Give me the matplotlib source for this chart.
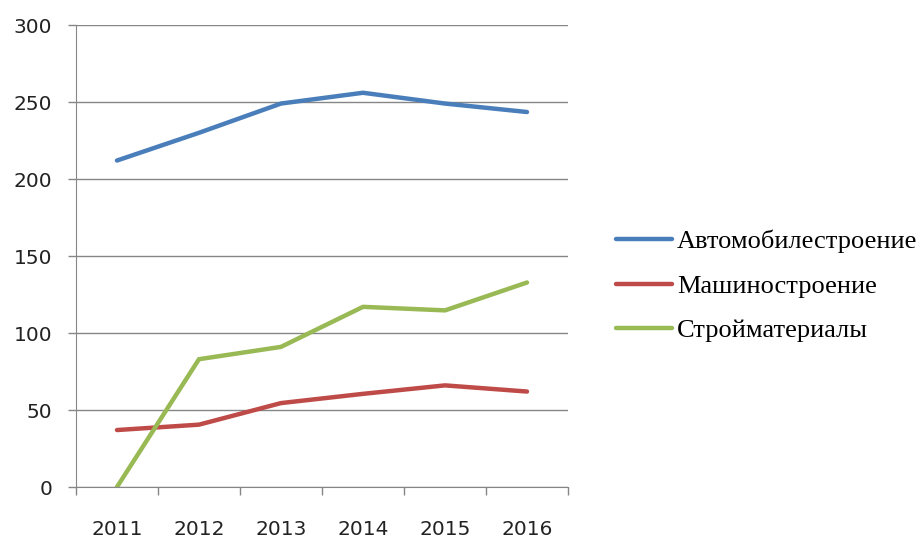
import numpy as np
import matplotlib.pyplot as plt

years = ['2011', '2012', '2013', '2014', '2015', '2016']
auto = [212, 230, 249, 256, 249, 243.5]
mash = [37, 40.5, 54.5, 60.5, 66, 62]
stroy = [0, 83, 91, 117, 114.7, 132.8]
names = ['Автомобилестроение', 'Машиностроение', 'Стройматериалы']
colors = ['#4A7EBB', '#BE4B48', '#98B954']

fig = plt.figure(figsize=(9.23, 5.4), dpi=100)
ax = fig.add_axes([0.0823, 0.0981, 0.5331, 0.8556])

x = np.arange(len(years))
for vals, name, c in zip([auto, mash, stroy], names, colors):
    ax.plot(x, vals, color=c, lw=3.2, label=name, solid_capstyle='round', solid_joinstyle='round')

ax.set_xlim(-0.5, len(years) - 0.5)
ax.set_ylim(0, 300)
ax.set_yticks(np.arange(0, 301, 50))
ax.yaxis.grid(True, color='#868686', lw=1)
ax.set_axisbelow(True)

# boundary ticks as major, labels at category centres as minor
ax.set_xticks(np.arange(-0.5, len(years), 1))
ax.set_xticklabels([])
ax.set_xticks(x, minor=True)
ax.set_xticklabels(years, minor=True)
ax.tick_params(axis='x', which='major', length=6, color='#868686', width=1)
ax.tick_params(axis='x', which='minor', length=0, pad=24, labelsize=14.5, labelcolor='#222222')
ax.tick_params(axis='y', length=6, color='#868686', width=1, labelsize=14.5, pad=11, labelcolor='#222222')

for s in ['top', 'right']:
    ax.spines[s].set_visible(False)
ax.spines['left'].set_color('#868686')
ax.spines['bottom'].set_color('#868686')

leg = ax.legend(loc='center left', bbox_to_anchor=(1.098, 0.435), frameon=False,
                prop={'family': 'Liberation Serif', 'size': 19},
                handlelength=2.1, labelspacing=0.8, handletextpad=0.2,
                borderaxespad=0, borderpad=0)

fig.savefig('out.png', dpi=100)
